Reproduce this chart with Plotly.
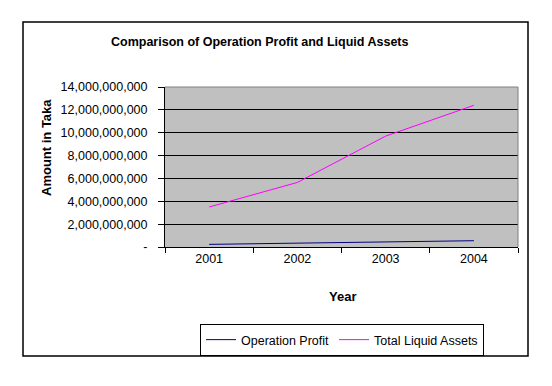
import plotly.graph_objects as go

years = ["2001", "2002", "2003", "2004"]
operation_profit = [230_000_000, 320_000_000, 400_000_000, 550_000_000]
total_liquid_assets = [3_500_000_000, 5_650_000_000, 9_700_000_000, 12_400_000_000]
y_tick_values = [0, 2e9, 4e9, 6e9, 8e9, 10e9, 12e9, 14e9]
y_tick_labels = ["-", "2,000,000,000", "4,000,000,000", "6,000,000,000",
                 "8,000,000,000", "10,000,000,000", "12,000,000,000", "14,000,000,000"]

FONT = "Liberation Sans, Arial, sans-serif"

fig = go.Figure()
fig.add_trace(go.Scatter(x=years, y=operation_profit, mode="lines", name="Operation Profit",
                         line=dict(color="#000080", width=1)))
fig.add_trace(go.Scatter(x=years, y=total_liquid_assets, mode="lines", name="Total Liquid Assets",
                         line=dict(color="#FF00FF", width=1)))

OFF = 8  # page body margin
L, R, T, B = 165, 518, 87, 247
W, H = 552 - OFF, 386 - OFF
pw, ph = R - L, B - T

def px(x):
    return (x - L) / pw

def py(y):
    return (B - y) / ph

fig.update_layout(
    width=W, height=H,
    margin=dict(l=L - OFF, r=W - (R - OFF), t=T - OFF, b=H - (B - OFF), pad=0),
    paper_bgcolor="white", plot_bgcolor="#C0C0C0",
    font=dict(family=FONT, size=12, color="black"),
    showlegend=True,
    legend=dict(orientation="h", x=px(342), xanchor="center", y=py(324), yanchor="top",
                bordercolor="black", borderwidth=1, bgcolor="white",
                font=dict(family=FONT, size=12.5, color="black"),
                itemwidth=30, tracegroupgap=0),
    xaxis=dict(type="category", range=[-0.5, 3.5], tickson="boundaries",
               ticks="outside", ticklen=5, tickcolor="black", showgrid=False,
               showline=True, linecolor="black", linewidth=1, zeroline=False,
               tickfont=dict(size=12.5, family=FONT), fixedrange=True),
    yaxis=dict(range=[0, 14e9], tickvals=y_tick_values, ticktext=y_tick_labels,
               ticks="outside", ticklen=6, tickcolor="black",
               showgrid=True, gridcolor="black", gridwidth=1,
               showline=True, linecolor="black", linewidth=1, zeroline=False,
               tickfont=dict(size=12.5, family=FONT), ticklabelstandoff=8, fixedrange=True),
    shapes=[
        dict(type="rect", xref="paper", yref="paper", x0=px(23), x1=px(528), y0=py(356), y1=py(22),
             line=dict(color="black", width=1.5), fillcolor="rgba(0,0,0,0)", layer="below"),
        dict(type="line", xref="paper", yref="paper", x0=0, x1=1, y0=1, y1=1,
             line=dict(color="#808080", width=1)),
        dict(type="line", xref="paper", yref="paper", x0=1, x1=1, y0=0, y1=1,
             line=dict(color="#808080", width=1)),
    ],
    annotations=[
        dict(text="<b>Comparison of Operation Profit and Liquid Assets</b>", xref="paper", yref="paper",
             x=px(260), y=py(42), xanchor="center", yanchor="middle", showarrow=False,
             font=dict(size=12.5, family=FONT)),
        dict(text="<b>Amount in Taka</b>", xref="paper", yref="paper",
             x=px(46), y=py(148), xanchor="center", yanchor="middle", textangle=-90, showarrow=False,
             font=dict(size=13, family=FONT)),
        dict(text="<b>Year</b>", xref="paper", yref="paper",
             x=px(342), y=py(296), xanchor="center", yanchor="middle", showarrow=False,
             font=dict(size=13, family=FONT)),
    ],
)

fig.write_html("out.html")
